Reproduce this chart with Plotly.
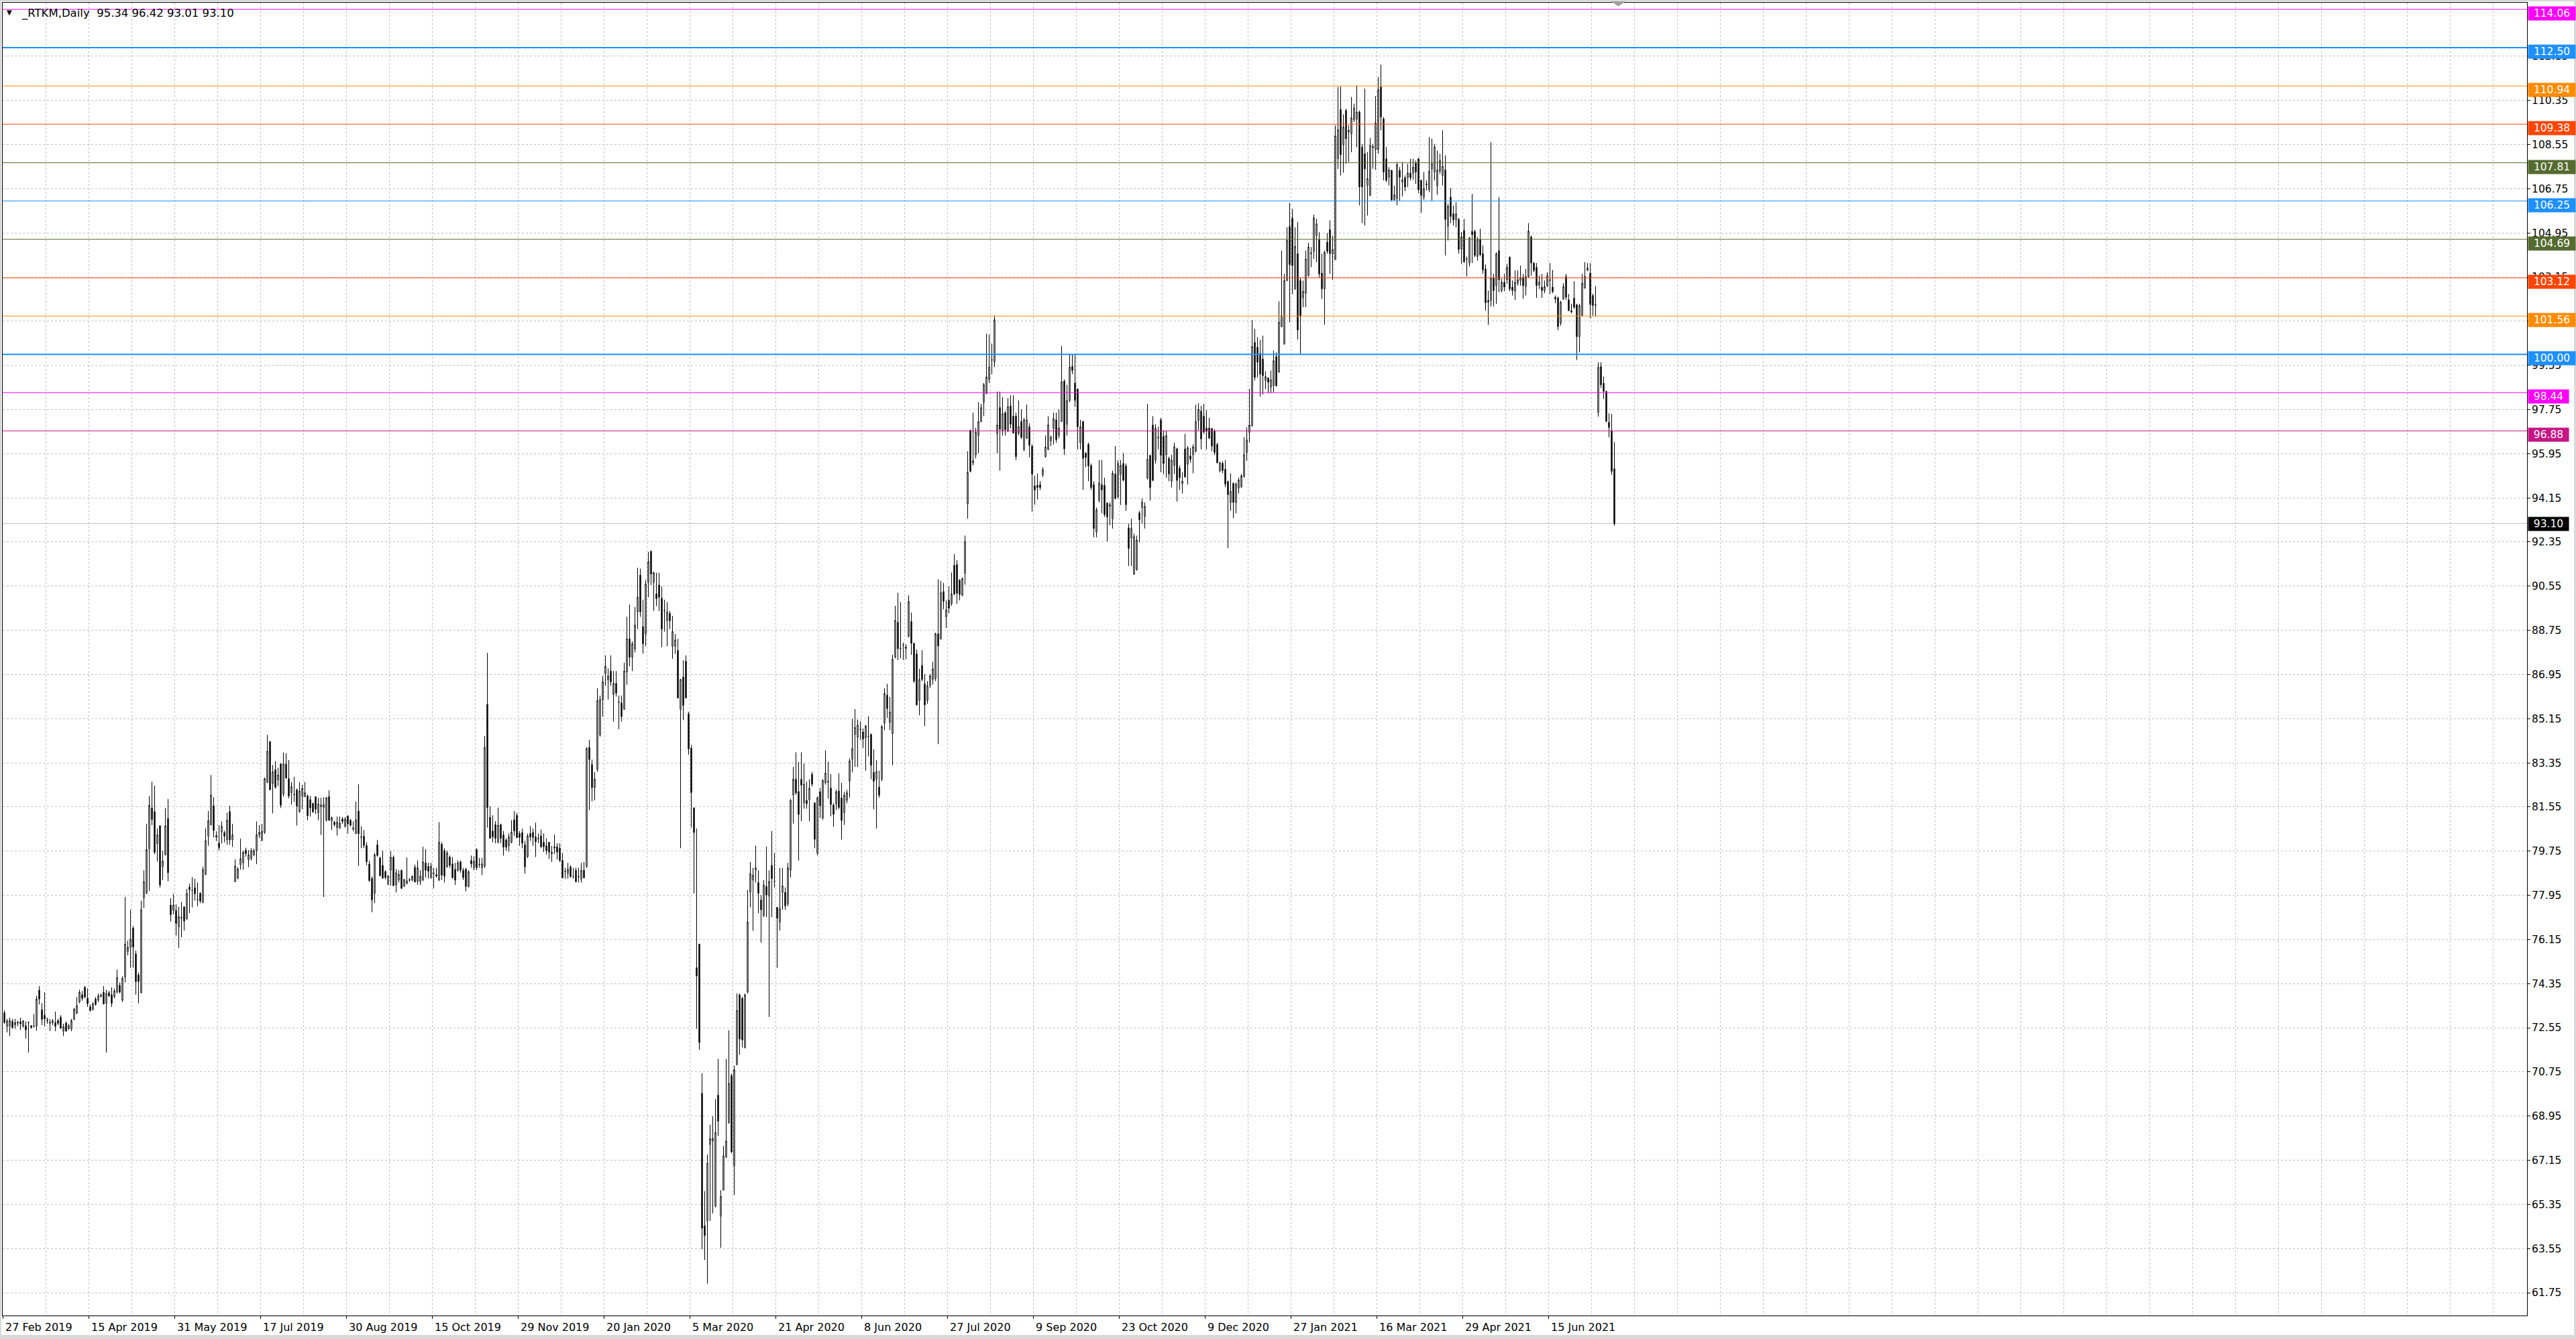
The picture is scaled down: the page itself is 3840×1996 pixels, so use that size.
import plotly.graph_objects as go

# ---------------- data ----------------
opens = [
73.16,72.61,72.61,72.81,72.66,72.74,72.79,72.61,72.63,72.77,
72.63,72.60,72.61,74.08,73.28,73.06,72.87,72.78,72.76,72.76,
72.84,72.98,72.41,72.74,72.51,72.51,72.89,73.15,73.60,73.90,
74.20,73.75,73.40,73.30,73.72,73.67,73.83,74.00,73.55,73.98,
73.90,73.82,74.00,74.28,73.67,74.62,75.66,75.82,76.61,75.56,
74.70,73.98,77.85,78.03,79.85,81.51,81.36,80.06,80.78,79.11,
79.60,81.08,77.55,77.33,77.33,76.66,77.01,77.48,76.98,78.28,
78.15,78.26,77.78,78.03,77.66,78.80,80.36,80.82,81.60,80.31,
80.08,80.53,80.51,80.21,81.36,80.21,78.50,78.65,79.20,79.27,
79.79,79.40,79.45,79.60,79.77,80.41,80.19,80.51,82.55,84.21,
82.50,83.07,82.65,83.30,82.07,83.30,82.70,82.13,82.05,82.25,
81.36,82.00,81.97,82.00,81.85,81.70,81.97,81.31,81.56,81.53,
81.01,81.97,80.98,80.93,80.71,80.69,81.06,80.76,81.18,81.01,
80.69,80.46,81.39,80.33,80.36,79.98,79.22,78.64,78.03,80.01,
79.47,79.17,78.92,78.39,78.97,79.50,78.37,78.57,78.97,78.32,
78.42,78.56,78.57,79.09,
78.51,78.51,78.57,79.27,79.13,78.67,78.83,78.79,78.57,80.03,
79.77,79.11,79.51,79.23,79.01,78.97,79.31,78.97,79.01,78.31,
79.37,79.07,79.81,79.19,79.07,79.13,85.73,81.13,80.57,80.83,
80.11,80.83,80.41,80.21,79.97,80.11,81.03,81.21,80.47,80.51,
80.01,79.53,80.47,80.51,80.33,80.27,80.37,80.11,79.97,80.11,
79.63,79.87,79.93,79.87,79.37,78.91,78.83,79.11,78.71,78.97,
78.73,78.61,78.97,79.13,83.98,83.28,82.34,83.08,84.48,85.93,
86.99,86.73,87.09,86.13,86.59,85.83,85.79,85.53,87.05,88.40,
87.65,87.99,89.50,91.00,88.90,88.60,90.70,91.97,90.70,90.24,
90.60,90.06,89.56,89.14,89.44,88.10,88.10,87.93,85.53,86.85,
87.49,85.35,83.94,81.52,75.00,75.96,69.88,64.48,64.68,67.79,
67.93,65.28,69.80,64.87,65.93,67.29,68.68,70.60,66.93,71.04,
73.89,73.75,71.75,74.01,78.07,78.57,78.97,78.47,77.76,77.12,
78.31,77.92,79.17,78.51,77.46,76.86,78.07,78.07,77.60,78.97,
82.04,82.68,82.18,82.68,81.72,81.82,81.84,82.88,81.72,79.67,
82.17,81.10,82.53,82.56,82.32,81.63,81.67,82.20,81.92,81.32,
81.82,82.60,83.50,84.51,84.39,84.72,84.61,84.36,84.43,84.51,
82.96,82.68,82.36,82.68,84.96,86.11,84.99,84.54,87.65,89.08,
88.02,88.14,88.01,88.50,89.11,88.22,87.79,85.89,87.32,86.57,
85.89,86.51,86.75,86.78,88.61,88.40,90.33,89.30,89.98,89.83,
91.40,91.43,90.80,90.18,91.07,93.90,96.90,95.57,95.90,96.69,
97.26,98.05,98.40,98.98,99.76,99.69,96.76,97.83,96.90,97.62,
96.90,97.90,97.48,97.48,96.79,97.26,96.12,96.58,97.05,96.26,
94.64,94.66,94.69,95.09,95.83,96.12,96.48,96.98,97.33,96.69,
97.26,98.91,97.15,98.12,99.51,98.83,98.58,96.40,97.26,95.98,
96.33,95.47,94.69,92.76,94.04,94.69,94.66,93.94,93.80,93.30,
95.12,94.19,95.12,95.55,95.45,92.93,92.51,91.04,91.23,93.54,
93.76,93.40,94.95,95.88,97.12,95.69,96.62,97.33,96.66,95.90,
95.76,94.83,95.47,96.15,95.36,94.72,96.15,95.52,95.86,95.90,
96.05,97.29,97.69,97.48,97.00,97.00,96.98,96.86,96.33,95.26,
95.56,95.32,94.82,93.96,94.74,93.96,94.55,94.60,95.01,96.00,
96.82,97.09,100.49,100.29,100.04,99.81,98.93,99.04,98.66,98.72,
99.91,99.27,101.13,100.42,103.01,105.21,105.55,102.67,104.10,103.01,
102.30,102.49,103.21,104.10,104.20,104.84,104.68,103.31,102.67,104.57,
105.08,104.10,103.86,107.97,109.98,108.54,109.94,109.06,108.99,109.56,
109.58,109.88,108.45,108.18,106.88,106.48,108.42,108.34,108.34,110.90,
109.60,107.97,107.22,107.50,106.30,106.34,107.50,107.02,107.20,107.20,
107.39,107.39,107.80,107.97,107.09,106.41,106.91,106.71,107.56,107.43,
106.86,107.46,107.29,107.52,105.22,106.41,105.73,105.48,105.50,104.30,
105.05,103.88,103.72,105.01,105.01,103.99,104.68,104.10,103.48,102.20,
102.19,103.12,102.80,104.23,102.60,102.94,103.04,103.96,102.74,102.57,
102.90,103.01,103.14,102.76,103.17,104.78,103.72,103.55,102.83,102.74,
102.60,102.80,103.01,102.74,102.33,102.30,101.27,102.26,103.17,102.22,
101.78,102.29,102.02,100.72,101.58,102.71,103.42,103.31,102.40,102.02,
97.64,99.50,98.82,98.49,97.23,96.89,95.34,
]

highs = [
73.26,72.91,72.96,72.91,72.91,72.83,72.96,72.86,72.81,72.81,
72.66,73.11,73.85,74.25,73.55,74.00,72.96,72.91,72.91,73.21,
72.91,73.06,72.71,72.81,72.71,72.91,73.36,73.80,74.10,74.05,
74.25,74.15,73.50,73.60,73.80,73.95,73.95,74.25,74.10,74.05,
74.20,74.15,74.92,74.40,74.65,77.88,76.10,77.36,76.69,75.69,
74.80,77.73,78.97,80.86,81.99,82.58,82.42,80.68,80.81,79.77,
81.50,81.87,77.83,78.00,77.58,77.48,77.68,77.50,78.20,78.42,
78.69,78.62,78.47,78.08,79.12,80.68,81.39,82.85,81.95,80.56,
80.81,80.96,80.58,81.31,81.60,80.86,79.42,79.10,80.26,79.77,
79.89,79.79,79.87,79.85,80.96,80.81,80.86,82.75,84.49,84.24,
83.26,83.42,83.15,83.34,83.77,83.74,83.46,82.57,82.78,82.30,
82.57,82.45,82.57,82.05,82.00,81.72,81.98,81.92,81.92,81.95,
81.95,82.23,81.16,80.98,81.16,81.16,81.14,81.14,81.21,81.06,
80.96,81.77,82.47,80.76,80.61,80.11,79.37,78.72,79.67,80.21,
79.52,79.77,78.97,78.77,79.75,79.57,79.02,78.97,78.99,78.62,
79.49,78.65,78.77,79.20,
79.37,78.97,79.93,79.83,79.27,79.27,79.07,79.07,80.93,80.11,
79.87,79.77,79.57,79.51,79.27,79.37,79.37,79.07,79.07,78.97,
79.57,79.53,79.87,79.47,79.47,84.44,87.83,81.58,81.21,80.97,
81.52,80.87,80.57,80.27,80.47,81.01,81.38,81.31,80.57,80.67,
80.17,80.47,80.77,80.67,80.91,80.47,80.63,80.47,80.27,80.11,
79.97,80.43,80.07,80.07,79.67,79.07,79.27,79.17,79.07,79.07,
79.07,79.27,79.31,83.98,84.28,83.48,82.98,86.39,86.09,86.89,
87.73,87.19,87.73,87.09,87.09,86.09,86.09,87.43,89.30,89.80,
88.30,89.70,91.30,91.26,90.00,90.80,91.95,92.01,91.14,91.10,
91.10,90.54,90.00,89.90,89.54,89.34,88.60,88.40,86.75,87.53,
87.73,85.43,84.08,81.52,80.67,75.96,70.70,65.89,67.39,68.60,
68.94,69.64,71.28,65.93,67.73,71.28,72.45,70.68,71.00,73.95,
73.95,73.81,73.95,78.17,79.31,79.07,79.97,78.97,77.96,78.57,
79.93,78.97,80.57,79.67,77.46,79.07,79.07,78.27,79.27,81.88,
83.18,83.78,83.38,83.78,83.32,82.58,82.68,82.98,81.72,81.98,
82.32,82.68,83.86,83.39,82.89,81.70,82.25,82.92,82.53,82.17,
82.25,83.53,85.14,85.54,85.11,85.04,84.75,84.89,85.25,84.54,
83.89,83.46,83.03,84.89,86.39,86.57,86.04,87.75,89.75,90.28,
89.90,88.25,88.18,90.18,89.47,88.25,87.97,87.18,87.94,86.97,
86.68,86.97,87.47,88.65,90.83,90.76,90.68,89.97,90.54,91.11,
91.86,91.61,90.83,90.90,92.61,96.05,96.93,97.62,97.00,98.05,
97.98,98.83,100.84,100.81,100.44,101.58,98.48,98.48,98.26,97.69,
98.22,98.33,98.33,97.62,98.12,97.76,97.41,97.95,97.19,96.33,
95.05,95.15,94.83,95.40,96.69,97.48,96.69,97.62,97.62,97.76,
100.34,98.98,98.76,99.98,99.98,99.98,98.62,97.33,97.29,96.00,
96.40,95.55,94.83,93.76,95.69,95.69,94.97,93.97,93.97,95.26,
96.26,95.69,95.69,95.98,95.55,93.09,93.30,92.69,92.61,93.62,
94.12,93.97,97.98,95.90,97.48,97.15,97.05,97.41,96.90,96.90,
95.83,95.90,96.40,96.19,95.47,95.19,96.76,96.26,96.19,96.33,
97.95,98.01,97.90,97.98,97.72,97.41,96.98,96.95,96.40,95.62,
95.64,95.69,94.85,95.15,94.78,94.78,94.98,95.12,96.62,97.02,
98.59,101.40,101.04,100.70,100.59,100.76,99.31,99.06,99.34,100.15,
100.08,102.16,104.23,103.28,105.18,106.18,105.93,105.18,105.39,103.12,
103.01,104.23,104.54,104.37,105.70,105.52,104.98,104.10,104.23,104.94,
105.46,104.84,109.33,110.90,110.92,109.78,110.01,109.33,110.49,110.22,
110.96,109.94,108.58,110.83,108.24,108.82,108.58,110.53,111.30,111.81,
109.67,108.45,107.63,107.52,106.88,107.84,107.63,107.84,107.29,107.77,
107.97,107.97,107.90,108.01,107.12,107.43,107.09,108.86,108.79,108.58,
108.31,108.18,109.13,108.11,106.14,106.78,106.07,106.20,105.56,104.98,
105.52,103.99,104.78,106.54,105.08,104.78,105.12,104.44,103.66,102.60,
108.65,103.28,104.16,106.41,103.08,103.28,103.69,103.99,103.01,103.42,
103.42,103.62,103.28,103.48,105.35,104.84,103.76,103.72,103.21,103.28,
103.01,103.35,103.72,103.44,102.40,102.36,102.19,102.90,103.28,102.46,
102.06,102.98,102.06,102.06,103.28,103.76,103.72,103.72,102.46,102.78,
99.68,99.68,99.09,98.52,97.60,97.57,96.42,
]

lows = [
72.71,72.36,72.21,72.51,72.51,72.61,72.46,72.56,72.11,71.54,
72.51,72.56,72.43,73.50,72.66,72.61,72.71,72.41,72.66,72.41,
72.66,72.51,72.21,72.39,72.46,72.41,72.86,73.10,73.55,73.65,
73.75,73.40,73.20,73.25,73.45,73.60,73.78,73.50,71.54,73.80,
73.40,73.75,73.95,73.95,73.60,74.40,75.50,75.00,75.00,73.90,
73.55,73.95,77.43,78.00,78.13,80.81,79.62,79.32,78.26,78.57,
79.57,78.52,76.88,77.18,76.31,75.81,76.24,76.51,76.96,77.23,
77.46,77.73,77.50,77.63,77.63,78.77,79.97,80.81,80.31,80.16,
79.77,80.06,80.11,80.01,80.01,79.92,78.49,78.60,79.00,78.99,
79.52,79.10,79.37,79.55,79.22,80.28,80.16,80.45,82.52,82.25,
81.29,82.30,82.40,81.51,81.97,82.70,81.90,81.65,81.75,80.79,
81.31,81.46,81.95,81.01,81.16,81.31,81.26,81.01,80.41,77.88,
80.96,80.98,80.61,80.76,80.38,80.66,80.86,80.71,80.46,80.76,
80.56,80.46,79.15,79.87,79.87,79.17,78.50,77.26,77.63,79.52,
78.72,78.62,78.60,78.37,78.35,78.32,78.06,78.47,78.21,78.29,
78.40,78.50,78.52,78.49,
78.37,78.37,78.53,78.67,78.63,78.63,78.23,78.67,78.53,78.57,
78.47,79.07,79.07,78.63,78.37,78.91,78.87,78.57,78.11,78.27,
79.07,78.97,78.97,79.07,78.77,79.07,80.71,80.27,80.11,80.07,
80.07,80.07,79.57,79.77,79.73,80.07,80.37,80.27,79.97,79.87,
78.83,79.47,80.17,79.97,79.51,80.07,79.87,79.71,79.61,79.43,
79.31,79.63,79.41,79.31,78.63,78.63,78.63,78.67,78.63,78.47,
78.47,78.47,78.63,79.07,81.42,81.78,81.82,82.98,84.42,85.23,
86.49,85.93,86.49,85.03,86.05,84.72,85.03,85.53,86.53,87.29,
87.09,87.85,88.80,89.30,87.80,88.10,90.10,90.60,89.54,89.74,
89.54,88.06,88.70,88.10,88.80,87.59,87.79,85.99,79.87,85.09,
85.99,83.68,80.71,78.03,72.51,71.65,63.52,63.08,62.12,64.68,
64.98,65.23,68.14,63.58,65.93,67.23,68.64,67.43,65.73,71.04,
71.45,71.75,71.71,73.95,77.46,76.50,78.47,77.22,76.02,77.06,
77.06,72.99,77.06,78.27,74.99,76.52,77.36,77.36,77.50,78.67,
80.87,82.04,79.37,80.97,81.48,81.48,80.97,82.38,79.87,79.57,
81.10,81.03,82.46,81.89,81.17,80.74,81.42,81.46,80.22,80.82,
81.70,81.93,82.96,83.18,83.18,84.28,83.96,83.03,83.61,82.68,
81.46,80.67,81.93,82.60,84.68,85.18,84.68,83.25,87.61,87.54,
87.61,87.54,87.57,88.47,87.75,86.61,85.68,85.29,86.68,84.85,
85.75,86.39,86.54,86.68,84.11,88.37,89.61,88.85,89.44,89.75,
90.18,89.83,89.97,90.14,90.61,93.30,95.19,95.47,95.76,95.97,
97.23,97.48,98.38,98.83,99.19,99.48,95.97,95.26,96.69,96.69,
96.83,96.98,96.76,95.69,96.69,96.55,96.05,96.55,95.80,93.59,
93.87,94.09,94.47,95.00,95.79,96.09,96.26,96.33,96.40,96.58,
97.26,95.90,96.69,98.05,99.19,97.86,96.12,96.12,94.47,95.40,
94.83,94.47,92.54,92.54,93.97,93.52,93.37,92.37,93.04,92.90,
94.09,94.12,93.86,94.83,93.62,91.37,91.37,91.01,91.18,92.33,
93.11,92.90,94.90,94.04,94.83,95.55,96.12,95.19,95.12,94.97,
94.83,94.57,95.12,94.00,94.47,94.33,94.97,94.69,95.58,95.15,
96.00,96.90,96.12,96.76,96.12,96.55,96.05,95.90,95.55,95.19,
95.15,94.58,92.10,93.62,93.32,93.52,94.33,94.55,94.98,95.66,
96.41,97.05,98.93,99.06,98.28,98.36,98.59,98.41,98.41,98.45,
98.68,99.27,101.10,100.40,102.98,101.31,102.46,102.63,100.60,100.02,
101.92,101.92,103.17,103.55,103.89,103.76,103.12,102.26,101.21,104.10,
103.28,103.04,103.85,107.56,107.29,107.40,107.77,107.84,108.24,109.47,
108.45,106.07,105.35,105.25,105.66,106.45,107.56,107.52,108.18,109.13,
107.09,107.02,106.88,106.24,106.27,106.07,106.27,106.44,106.65,106.82,
107.09,107.12,106.95,106.57,105.77,106.30,106.68,106.61,106.27,107.09,
106.50,107.36,106.88,104.03,104.64,105.35,105.25,105.18,104.10,103.69,
103.72,103.17,103.58,103.72,103.96,103.82,103.99,103.28,101.78,101.20,
101.95,101.95,102.06,102.53,102.53,102.57,102.87,102.57,102.40,102.22,
102.80,102.80,102.26,102.40,103.12,103.21,103.35,102.30,102.67,102.30,
102.49,102.74,102.46,102.49,102.08,100.99,101.17,102.22,102.22,101.76,
101.68,101.85,99.77,100.08,101.54,102.67,103.39,101.47,101.58,101.54,
97.46,98.63,98.18,97.23,96.62,95.09,93.01,
]

closes = [
72.76,72.83,72.84,72.56,72.76,72.78,72.71,72.83,72.46,72.76,
72.56,72.62,73.72,73.72,72.89,72.91,72.84,72.74,72.83,72.61,
72.73,72.53,72.59,72.41,72.63,72.84,73.31,73.45,74.00,73.75,
73.80,73.53,73.26,73.52,73.50,73.85,73.88,73.52,73.95,73.85,
73.55,74.05,74.60,74.00,74.57,75.96,75.83,76.16,75.84,74.43,
74.43,77.36,78.50,79.82,81.62,81.04,79.70,80.41,78.37,79.34,
80.78,78.87,77.16,77.55,76.80,77.08,77.05,76.90,78.03,78.18,
78.14,78.01,77.77,77.71,79.00,80.18,80.99,82.03,80.59,80.39,
79.89,80.76,80.36,81.01,80.21,80.41,79.14,79.02,79.44,79.70,
79.65,79.60,79.77,79.77,80.41,80.51,80.56,82.70,83.82,82.25,
82.98,82.35,82.85,81.62,83.30,82.73,82.00,82.38,82.07,81.58,
82.20,82.30,82.13,81.19,81.51,81.35,81.46,81.67,81.63,81.65,
81.93,81.01,81.11,80.83,80.93,80.89,80.96,81.06,80.86,80.81,
80.66,81.03,80.46,80.31,79.98,79.32,78.55,77.76,79.60,79.57,
78.75,78.65,78.67,78.74,79.50,78.34,78.87,78.80,78.23,78.59,
78.54,78.59,78.72,78.49,
79.07,78.73,79.31,78.97,78.93,79.13,78.85,78.73,80.11,78.77,
78.73,79.67,79.17,78.67,78.57,79.27,78.97,78.67,78.31,78.91,
79.23,79.33,79.07,79.21,79.23,83.98,81.52,80.27,80.33,80.27,
80.81,80.27,79.91,79.91,80.33,80.53,80.57,80.31,80.31,80.07,
79.11,80.37,80.33,80.31,80.13,80.25,79.93,79.93,79.77,79.71,
79.71,79.93,79.71,79.37,78.67,78.93,79.01,78.71,78.71,78.51,
78.71,78.97,78.67,83.94,83.48,82.34,82.68,85.89,85.93,86.65,
87.29,86.89,86.65,86.59,86.19,85.81,85.23,87.09,88.40,87.65,
88.20,88.96,90.10,89.50,88.20,90.64,91.55,91.04,91.10,90.04,
90.10,88.80,89.54,89.50,89.14,88.70,88.36,85.99,86.75,85.69,
85.99,83.92,82.14,80.51,74.66,71.95,64.38,64.08,67.03,68.03,
68.03,68.28,68.74,65.67,67.33,67.93,70.28,67.49,70.84,73.25,
72.09,72.05,73.89,76.86,78.83,78.77,79.07,78.03,77.36,78.37,
77.96,78.51,78.63,78.51,77.02,77.40,78.33,77.52,79.07,81.82,
82.68,82.12,81.24,82.44,82.48,81.68,82.32,82.48,80.23,81.92,
81.60,82.63,82.93,82.60,81.65,81.25,82.17,81.53,81.00,82.03,
82.13,83.43,83.93,84.79,84.89,84.70,84.32,84.85,84.42,83.25,
82.60,82.99,82.03,84.82,86.18,85.56,85.42,87.57,89.15,88.00,
88.01,88.15,88.07,89.93,88.22,86.68,85.71,86.75,86.75,85.71,
86.49,86.89,87.18,88.61,88.11,90.28,89.93,89.58,89.65,90.23,
90.23,90.26,90.21,90.86,92.37,95.19,95.23,95.66,96.83,97.26,
97.83,98.76,99.08,99.48,99.78,101.41,97.12,96.95,97.58,96.93,
97.86,97.15,96.80,95.83,97.05,96.62,97.33,97.33,96.29,95.12,
94.47,94.57,94.57,95.30,96.22,97.12,96.62,97.38,96.52,97.00,
98.88,96.15,98.12,99.48,99.34,98.12,97.05,97.05,95.76,95.80,
95.45,94.57,92.90,93.66,94.76,94.47,93.47,93.37,93.87,95.15,
94.12,95.55,95.47,94.87,93.87,92.09,92.90,92.57,92.43,93.26,
93.97,93.80,95.72,94.57,94.86,96.98,96.60,95.88,95.55,96.69,
95.12,95.69,96.23,94.86,94.97,94.83,95.00,96.19,95.72,96.23,
97.26,97.76,96.55,96.83,96.86,96.58,96.26,96.00,95.58,95.58,
95.26,94.71,94.28,94.41,93.96,94.71,94.88,95.05,95.91,96.51,
97.12,100.32,99.06,99.68,99.20,99.13,99.09,98.86,98.96,99.74,
98.72,101.31,101.58,103.01,104.64,103.66,103.62,104.40,100.99,101.54,
102.57,103.89,104.37,104.14,105.56,105.32,103.28,102.67,104.16,104.20,
104.10,104.27,108.90,109.16,108.14,109.26,108.79,109.13,109.64,110.04,
109.88,106.82,106.82,107.56,107.16,108.52,108.48,109.44,110.79,109.67,
107.43,107.09,107.52,106.30,106.50,107.73,107.22,107.11,106.82,107.39,
107.20,107.63,107.43,106.71,106.48,106.75,106.95,107.46,107.77,108.45,
107.52,107.90,107.66,105.50,106.04,105.62,105.48,105.73,104.27,104.78,
103.78,103.89,104.74,104.88,104.03,104.68,104.06,103.44,102.10,102.13,
103.10,102.60,104.10,103.04,102.94,102.74,103.55,102.67,102.60,102.94,
103.04,103.12,102.80,103.17,105.02,103.72,103.42,102.80,102.94,102.60,
102.76,103.21,103.04,102.56,102.26,101.13,102.12,102.76,102.33,101.78,
101.72,101.92,100.72,101.99,102.90,103.17,103.52,102.03,101.99,102.00,
99.47,98.76,98.49,97.27,97.02,95.23,93.10,
]

date_labels = ["27 Feb 2019", "15 Apr 2019", "31 May 2019", "17 Jul 2019", "30 Aug 2019",
               "15 Oct 2019", "29 Nov 2019", "20 Jan 2020", "5 Mar 2020", "21 Apr 2020",
               "8 Jun 2020", "27 Jul 2020", "9 Sep 2020", "23 Oct 2020", "9 Dec 2020",
               "27 Jan 2021", "16 Mar 2021", "29 Apr 2021", "15 Jun 2021"]
bars_per_label = 32

price_ticks = [61.75, 63.55, 65.35, 67.15, 68.95, 70.75, 72.55, 74.35, 76.15, 77.95,
               79.75, 81.55, 83.35, 85.15, 86.95, 88.75, 90.55, 92.35, 94.15, 95.95,
               97.75, 99.55, 101.35, 103.15, 104.95, 106.75, 108.55, 110.35, 112.15]

level_values = [114.06, 112.50, 110.94, 109.38, 107.81, 106.25, 104.69, 103.12, 101.56, 100.00, 98.44, 96.88]
level_colors = ["#FF00FF", "#1E90FF", "#FF8C00", "#FF4500", "#556B2F", "#1E90FF",
                "#556B2F", "#FF4500", "#FF8C00", "#1E90FF", "#FF00FF", "#C71585"]
level_widths = [1, 2, 1, 1, 1, 1, 1, 1, 1, 2, 1, 1]

symbol = "_RTKM,Daily"
last_price = 93.10

# ---------------- figure ----------------
FONT = "DejaVu Sans"
W, H = 3840, 1996
ML, MR, MT, MB = 4, 73, 4, 35

n = len(closes)
xs = list(range(n))

fig = go.Figure()
fig.add_trace(go.Candlestick(
    x=xs, open=opens, high=highs, low=lows, close=closes,
    increasing=dict(line=dict(color="black", width=1), fillcolor="white"),
    decreasing=dict(line=dict(color="black", width=1), fillcolor="black"),
    whiskerwidth=0, showlegend=False, hoverinfo="skip",
))

shapes = []
annotations = []

# horizontal levels (their price boxes sit slightly below the line, as in the terminal)
for v, c, w in zip(level_values, level_colors, level_widths):
    shapes.append(dict(type="line", xref="paper", x0=0, x1=1, yref="y", y0=v, y1=v,
                       line=dict(color=c, width=w), layer="above"))
    txt = f"{v:.2f}"
    annotations.append(dict(xref="paper", x=1, xanchor="left", xshift=1,
                            yref="y", y=v, yanchor="middle", yshift=-6,
                            text=txt, showarrow=False, bgcolor=c,
                            width=10 * len(txt) + 8, height=18, borderpad=1, align="center",
                            font=dict(family=FONT, size=15.5, color="white")))

# bid line + label
shapes.append(dict(type="line", xref="paper", x0=0, x1=1, yref="y", y0=last_price, y1=last_price,
                   line=dict(color="#C0C0C0", width=1), layer="below"))
annotations.append(dict(xref="paper", x=1, xanchor="left", xshift=1,
                        yref="y", y=last_price, yanchor="middle",
                        text=f"{last_price:.2f}", showarrow=False, bgcolor="black",
                        width=58, height=18, borderpad=1, align="center",
                        font=dict(family=FONT, size=15.5, color="white")))

# date labels (left aligned at their tick)
for i, lab in enumerate(date_labels):
    annotations.append(dict(xref="x", x=i * bars_per_label - 0.5, xanchor="left", xshift=1,
                            yref="paper", y=0, yanchor="middle", yshift=-17,
                            text=lab, showarrow=False,
                            font=dict(family=FONT, size=16, color="black")))

# title
annotations.append(dict(xref="paper", x=0, xanchor="left", xshift=4,
                        yref="paper", y=1, yanchor="middle", yshift=-14,
                        text="\u25BC", showarrow=False,
                        font=dict(family=FONT, size=10, color="black")))
annotations.append(dict(xref="paper", x=0, xanchor="left", xshift=26,
                        yref="paper", y=1, yanchor="middle", yshift=-16,
                        text=f"{symbol}  {opens[-1]:.2f} {highs[-1]:.2f} {lows[-1]:.2f} {closes[-1]:.2f}",
                        showarrow=False,
                        font=dict(family=FONT, size=16.5, color="black")))

# chart-shift marker
shapes.append(dict(type="path", xref="x", yref="paper",
                   path="M 599.0 1.001 L 604.0 1.001 L 601.5 0.9975 Z",
                   fillcolor="#A0A0A0", line=dict(color="#A0A0A0", width=1), layer="above"))

# window border (light grey)
pw = W - ML - MR
ph = H - MT - MB
def px(xp):
    return (xp - ML) / pw
def py(yp):
    return 1 - (yp - MT) / ph
for (x0, y0, x1, y1) in [(0, 0, 2, H), (0, 0, W, 2), (0, H - 6, W, H), (W - 3, 0, W, H)]:
    shapes.append(dict(type="rect", xref="paper", yref="paper",
                       x0=px(x0), x1=px(x1), y0=py(y1), y1=py(y0),
                       fillcolor="#D9D9D9", line=dict(width=0), layer="above"))

xmin = -0.625
xmax = xmin + pw / 4.0
ytop = 61.75 + (1927 - MT) / 36.57
ybot = 61.75 - (H - MB - 1927) / 36.57

grid_col = "#C0C0C0"
fig.update_layout(
    width=W, height=H,
    margin=dict(l=ML, r=MR, t=MT, b=MB, pad=0),
    paper_bgcolor="white", plot_bgcolor="white",
    boxgap=0.5,
    showlegend=False,
    font=dict(family=FONT, size=15, color="black"),
    shapes=shapes, annotations=annotations,
    xaxis=dict(
        range=[xmin, xmax], rangeslider=dict(visible=False),
        tickmode="array", tickvals=[i * bars_per_label - 0.5 for i in range(len(date_labels))],
        showticklabels=False, ticks="outside", ticklen=4, tickcolor="black",
        showgrid=True, gridcolor=grid_col, gridwidth=1, griddash="3px,3px",
        minor=dict(tickmode="array",
                   tickvals=[i * bars_per_label / 2 - 0.5 for i in range(2 * len(date_labels) + 22)],
                   showgrid=True, gridcolor=grid_col, gridwidth=1, griddash="3px,3px", ticks=""),
        showline=True, linecolor="black", linewidth=1, mirror=True,
        zeroline=False, fixedrange=True,
    ),
    yaxis=dict(
        range=[ybot, ytop], side="right",
        tickmode="array", tickvals=price_ticks, ticktext=[f"{v:.2f}" for v in price_ticks],
        ticks="outside", ticklen=4, tickcolor="black", ticklabelstandoff=-1,
        tickfont=dict(family=FONT, size=15.5, color="black"),
        showgrid=True, gridcolor=grid_col, gridwidth=1, griddash="3px,3px",
        showline=True, linecolor="black", linewidth=1, mirror=True,
        zeroline=False, fixedrange=True,
    ),
)

fig.write_html("out.html",
               config={"displayModeBar": False, "staticPlot": True},
               post_script="document.body.style.margin='0';document.body.style.overflow='hidden';")
